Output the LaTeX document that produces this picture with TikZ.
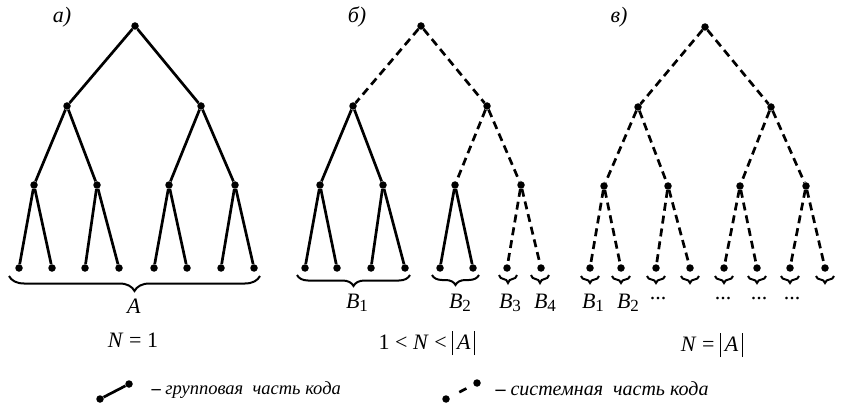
\documentclass[tikz,border=0pt]{standalone}
\usepackage{fontspec}
\setmainfont{Liberation Serif}
\usetikzlibrary{decorations.pathreplacing,calc}

\newcommand{\Bsub}[1]{\textit{B}\raisebox{-0.35ex}{\fontsize{17}{18}\selectfont #1}}
\newcommand{\absA}{\rule[-6pt]{1.1pt}{24pt}\,\textit{A}\,\rule[-6pt]{1.1pt}{24pt}}

\tikzset{
  vert/.style={circle, fill=black, inner sep=0pt, minimum size=7.5pt},
  grpline/.style={line width=2.7pt},
  sysline/.style={line width=2.7pt, dash pattern=on 8pt off 5pt},
  brc/.style={decorate, line width=2pt, decoration={brace, mirror, amplitude=#1}},
  lbl/.style={font=\fontsize{22}{24}\selectfont},
  tag/.style={font=\fontsize{22}{24}\selectfont\itshape},
  legtext/.style={font=\fontsize{18.5}{20}\selectfont\itshape, anchor=west},
}

\begin{document}
\begin{tikzpicture}[x=1pt, y=-1pt]
  \useasboundingbox (0,0) rectangle (843,406);

  %--- tree a ---
  \node[tag] (labA) at (62,17) {а)};
  \node[vert] (a) at (135,26) {};
  \node[vert] (a1) at (67,106) {};  \node[vert] (a2) at (201,106) {};
  \node[vert] (a11) at (34,185) {}; \node[vert] (a12) at (97,185) {};
  \node[vert] (a21) at (169,185) {}; \node[vert] (a22) at (235,185) {};
  \node[vert] (a111) at (19,268) {};  \node[vert] (a112) at (52,268) {};
  \node[vert] (a121) at (85,268) {};  \node[vert] (a122) at (119,268) {};
  \node[vert] (a211) at (154,268) {}; \node[vert] (a212) at (187,268) {};
  \node[vert] (a221) at (221,268) {}; \node[vert] (a222) at (254,268) {};

  \draw[grpline] (a) -- (a1);  \draw[grpline] (a) -- (a2);
  \draw[grpline] (a1) -- (a11); \draw[grpline] (a1) -- (a12);
  \draw[grpline] (a2) -- (a21); \draw[grpline] (a2) -- (a22);
  \draw[grpline] (a11) -- (a111); \draw[grpline] (a11) -- (a112);
  \draw[grpline] (a12) -- (a121); \draw[grpline] (a12) -- (a122);
  \draw[grpline] (a21) -- (a211); \draw[grpline] (a21) -- (a212);
  \draw[grpline] (a22) -- (a221); \draw[grpline] (a22) -- (a222);

  \draw[brc=15pt] ($(a111)+(-10,8)$) -- ($(a222)+(6,8)$);
  \node[lbl] (setA) at (134,306) {\textit{A}};
  \node[lbl] (condA) at (133,340) {\textit{N} = 1};

  %--- tree b ---
  \node[tag] (labB) at (357,17) {б)};
  \node[vert] (b) at (421,26) {};
  \node[vert] (b1) at (353,106) {};  \node[vert] (b2) at (487,106) {};
  \node[vert] (b11) at (320,185) {}; \node[vert] (b12) at (383,185) {};
  \node[vert] (b21) at (455,185) {}; \node[vert] (b22) at (521,185) {};
  \node[vert] (b111) at (305,268) {}; \node[vert] (b112) at (337,268) {};
  \node[vert] (b121) at (371,268) {}; \node[vert] (b122) at (405,268) {};
  \node[vert] (b211) at (440,268) {}; \node[vert] (b212) at (473,268) {};
  \node[vert] (b221) at (507,268) {}; \node[vert] (b222) at (541,268) {};

  \draw[sysline] (b) -- (b1);  \draw[sysline] (b) -- (b2);
  \draw[grpline] (b1) -- (b11); \draw[grpline] (b1) -- (b12);
  \draw[sysline] (b2) -- (b21); \draw[sysline] (b2) -- (b22);
  \draw[grpline] (b11) -- (b111); \draw[grpline] (b11) -- (b112);
  \draw[grpline] (b12) -- (b121); \draw[grpline] (b12) -- (b122);
  \draw[grpline] (b21) -- (b211); \draw[grpline] (b21) -- (b212);
  \draw[sysline] (b22) -- (b221); \draw[sysline] (b22) -- (b222);

  \draw[brc=11pt] ($(b111)+(-8,7)$) -- ($(b122)+(5,7)$);
  \draw[brc=10pt] ($(b211)+(-8,7)$) -- ($(b212)+(6,7)$);
  \draw[brc=8pt] ($(b221)+(-8,7)$) -- ($(b221)+(10,7)$);
  \draw[brc=8pt] ($(b222)+(-10,7)$) -- ($(b222)+(8,7)$);
  \node[lbl] (setB1) at (357,303) {\Bsub{1}};
  \node[lbl] (setB2) at (460,303) {\Bsub{2}};
  \node[lbl] (setB3) at (510,303) {\Bsub{3}};
  \node[lbl] (setB4) at (545,303) {\Bsub{4}};
  \node[lbl] (condB) at (427,343) {1 < \textit{N} < \absA};

  %--- tree c ---
  \node[tag] (labC) at (619,17) {в)};
  \node[vert] (c) at (705,27) {};
  \node[vert] (c1) at (638,107) {};  \node[vert] (c2) at (771,107) {};
  \node[vert] (c11) at (604,186) {}; \node[vert] (c12) at (668,186) {};
  \node[vert] (c21) at (740,186) {}; \node[vert] (c22) at (806,186) {};
  \node[vert] (c111) at (590,268) {}; \node[vert] (c112) at (621,268) {};
  \node[vert] (c121) at (656,268) {}; \node[vert] (c122) at (690,268) {};
  \node[vert] (c211) at (724,268) {}; \node[vert] (c212) at (757,268) {};
  \node[vert] (c221) at (790,268) {}; \node[vert] (c222) at (825,268) {};

  \draw[sysline] (c) -- (c1);  \draw[sysline] (c) -- (c2);
  \draw[sysline] (c1) -- (c11); \draw[sysline] (c1) -- (c12);
  \draw[sysline] (c2) -- (c21); \draw[sysline] (c2) -- (c22);
  \draw[sysline] (c11) -- (c111); \draw[sysline] (c11) -- (c112);
  \draw[sysline] (c12) -- (c121); \draw[sysline] (c12) -- (c122);
  \draw[sysline] (c21) -- (c211); \draw[sysline] (c21) -- (c212);
  \draw[sysline] (c22) -- (c221); \draw[sysline] (c22) -- (c222);

  \draw[brc=7pt] ($(c111)+(-9,8)$) -- ($(c111)+(9,8)$);
  \draw[brc=7pt] ($(c112)+(-9,8)$) -- ($(c112)+(9,8)$);
  \draw[brc=7pt] ($(c121)+(-9,8)$) -- ($(c121)+(9,8)$);
  \draw[brc=7pt] ($(c122)+(-9,8)$) -- ($(c122)+(9,8)$);
  \draw[brc=7pt] ($(c211)+(-9,8)$) -- ($(c211)+(9,8)$);
  \draw[brc=7pt] ($(c212)+(-9,8)$) -- ($(c212)+(9,8)$);
  \draw[brc=7pt] ($(c221)+(-9,8)$) -- ($(c221)+(9,8)$);
  \draw[brc=7pt] ($(c222)+(-9,8)$) -- ($(c222)+(9,8)$);
  \node[lbl] (setC1) at (593,303) {\Bsub{1}};
  \node[lbl] (setC2) at (628,303) {\Bsub{2}};
  \node[lbl] (dotsC1) at (658,299) {...};
  \node[lbl] (dotsC2) at (723,299) {...};
  \node[lbl] (dotsC3) at (759,299) {...};
  \node[lbl] (dotsC4) at (792,299) {...};
  \node[lbl] (condC) at (712,345) {\textit{N} = \absA};

  %--- legend ---
  \node[vert] (gs) at (100,399) {}; \node[vert] (ge) at (129,384) {};
  \draw[grpline] (gs) -- (ge);
  \node[legtext] (gtext) at (148,390) {{\upshape\bfseries –} групповая\ \ часть кода};

  \node[vert] (ss) at (446,399) {}; \node[vert] (se) at (477,383) {};
  \draw[line width=2.7pt, dash pattern=on 8pt off 11pt, dash phase=8pt] (ss) -- (se);
  \node[legtext, font=\fontsize{20}{22}\selectfont\itshape] (stext) at (492,389) {{\upshape\bfseries –}\ системная\ \ часть кода};
\end{tikzpicture}
\end{document}
